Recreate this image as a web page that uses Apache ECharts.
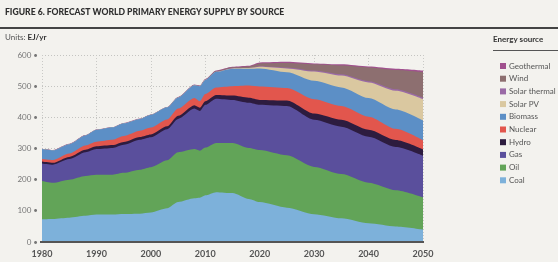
<!DOCTYPE html>
<html>
<head>
<meta charset="utf-8">
<script src="https://cdn.jsdelivr.net/npm/echarts@6/dist/echarts.min.js"></script>
<style>
  html, body { margin: 0; padding: 0; background: #f3f2ee; }
  #chart { width: 558px; height: 262px; }
</style>
</head>
<body>
<div id="chart"></div>
<script>
// years (x axis)
var years = [1980, 1982, 1985, 1988, 1990, 1993, 1995, 1998, 2000, 2003, 2005, 2008, 2009, 2010, 2012, 2015, 2018, 2020, 2025, 2030, 2035, 2040, 2045, 2050];

// EJ/yr per source (layer thickness, not cumulative)
var coal        = [73, 74, 78, 84, 88, 88, 90, 91, 95, 108, 128, 140, 142, 150, 160, 157, 138, 128, 110, 89, 76, 60, 50, 40];
var oil         = [123, 116, 122, 128, 128, 128, 132, 141, 145, 154, 160, 158, 151, 153, 158, 161, 164, 167, 168, 152, 142, 130, 116, 103];
var gas         = [56, 58, 66, 76, 82, 86, 90, 96, 96, 100, 107, 130, 127, 137, 142, 138, 145, 145, 158, 151, 152, 148, 139, 134];
var hydro       = [6, 6, 7, 8, 9, 9, 9, 9, 9, 9, 10, 11, 11, 12, 12, 14, 16, 16, 18, 20, 22, 22, 22, 20];
var nuclear     = [8, 9, 11, 14, 15, 17, 19, 20, 22, 22, 23, 23, 21, 23, 24, 30, 39, 43, 40, 46, 44, 42, 36, 29];
var biomass     = [32, 31, 30, 32, 38, 40, 41, 38, 41, 39, 36, 41, 48, 45, 50, 56, 54, 58, 51, 59, 60, 60, 62, 64];
var solarPV     = [0, 0, 0, 0, 0, 0, 0, 0, 0, 0, 0, 0, 0, 0.3, 0.5, 1, 2, 5, 12, 30, 38, 50, 60, 68];
var solarTherm  = [0, 0, 0, 0, 0, 0, 0, 0, 0, 0, 0, 0, 0, 0, 0, 0.3, 0.5, 2, 3, 3, 4, 4, 5, 5];
var wind        = [0, 0, 0, 0, 0, 0, 0, 0, 0, 0, 0.5, 1, 1, 1, 2, 3, 5, 9, 14, 20, 28, 44, 62, 82];
var geothermal  = [1, 1, 1, 1, 1, 1, 1, 1, 1, 1, 1, 1, 1, 2, 2, 2, 2, 3, 4, 3, 4, 3, 4, 5];

var sources = [
  { name: 'Coal', data: coal, color: '#7db1da' },
  { name: 'Oil', data: oil, color: '#62a458' },
  { name: 'Gas', data: gas, color: '#5a4f9c' },
  { name: 'Hydro', data: hydro, color: '#2d1c3f' },
  { name: 'Nuclear', data: nuclear, color: '#e2564d' },
  { name: 'Biomass', data: biomass, color: '#5c8fc6' },
  { name: 'Solar PV', data: solarPV, color: '#dac8a0' },
  { name: 'Solar thermal', data: solarTherm, color: '#9a6aa6' },
  { name: 'Wind', data: wind, color: '#8d6f70' },
  { name: 'Geothermal', data: geothermal, color: '#a0508e' }
];

var chart = echarts.init(document.getElementById('chart'));

// running totals, bottom layer first; each band is painted over the ones above it
var running = years.map(function () { return 0; });
var series = sources.map(function (s, k) {
  running = running.map(function (v, i) { return v + s.data[i]; });
  var top = running.slice();
  return {
    name: s.name,
    type: 'line',
    smooth: 0.25,
    smoothMonotone: 'x',
    symbol: 'none',
    z: 20 - k,
    lineStyle: { width: 0 },
    areaStyle: { color: s.color, opacity: 1, origin: 'start' },
    itemStyle: { color: s.color },
    data: years.map(function (y, i) { return [y, top[i]]; })
  };
});

var font = 'Lato, "Open Sans", sans-serif';

chart.setOption({
  backgroundColor: '#f3f2ee',
  animation: false,
  textStyle: { fontFamily: font },
  grid: { left: 42, right: 135, top: 55, bottom: 20 },
  graphic: [
    { type: 'text', left: 5, top: 8,
      style: { text: 'FIGURE 6. FORECAST WORLD PRIMARY ENERGY SUPPLY BY SOURCE', fill: '#2e2e2e', font: '900 8.6px ' + font } },
    { type: 'rect', shape: { x: 0, y: 27, width: 558, height: 2 }, style: { fill: '#444' } },
    { type: 'text', left: 5, top: 33,
      style: { rich: { a: { fill: '#555', font: '8px ' + font }, b: { fill: '#333', font: 'bold 8px ' + font } }, text: '{a|Units: }{b|EJ/yr}' } },
    { type: 'text', left: 493, top: 35,
      style: { text: 'Energy source', fill: '#333', font: 'bold 8px ' + font } },
    { type: 'rect', shape: { x: 493, y: 50, width: 65, height: 1 }, style: { fill: '#555' } },
    // baseline drawn over the areas
    { type: 'rect', z: 100, shape: { x: 40, y: 241, width: 384, height: 2 }, style: { fill: '#555' } }
  ],
  legend: {
    orient: 'vertical',
    left: 495,
    top: 57,
    itemWidth: 6,
    itemHeight: 6,
    itemGap: 4.7,
    icon: 'rect',
    textStyle: { fontSize: 8, color: '#555', padding: [0, 0, 0, -2] },
    data: ['Geothermal', 'Wind', 'Solar thermal', 'Solar PV', 'Biomass', 'Nuclear', 'Hydro', 'Gas', 'Oil', 'Coal']
  },
  xAxis: {
    type: 'value',
    min: 1980,
    max: 2050,
    interval: 10,
    axisLine: { show: false },
    axisTick: { show: false },
    axisLabel: { color: '#555', fontSize: 9, fontWeight: 'bold', margin: 8, formatter: function (v) { return String(v); } },
    splitLine: { show: true, lineStyle: { color: '#c9c9c6', type: [1, 2], width: 1 } }
  },
  yAxis: {
    type: 'value',
    min: 0,
    max: 600,
    interval: 100,
    axisLine: { show: false },
    axisTick: { show: false },
    axisLabel: { color: '#777', fontSize: 8, margin: 4, formatter: function (v) { return v + ' \u2022'; } },
    splitLine: { show: true, lineStyle: { color: '#c4c4c1', type: [1, 2], width: 1 } }
  },
  series: series
});
</script>
</body>
</html>
